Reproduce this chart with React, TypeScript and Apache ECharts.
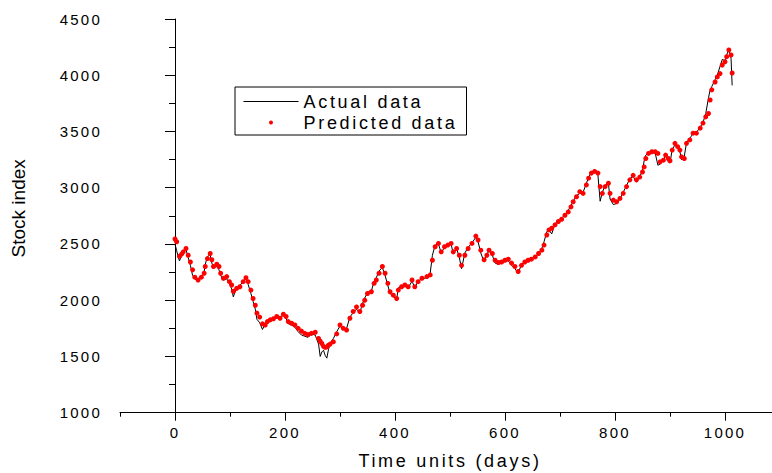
import React, { useEffect, useRef } from "react";
import * as echarts from "echarts";

const days = [
  0, 3, 8, 12, 15, 20, 24, 28, 32, 36, 42, 48, 53, 55, 59, 64, 67, 70, 76, 80,
  83, 88, 94, 99, 103, 106, 112, 118, 124, 129, 133, 138, 142, 146, 149, 154, 159, 164, 168, 173,
  179, 185, 191, 197, 202, 206, 212, 218, 224, 230, 236, 242, 248, 255, 261, 264, 267, 270, 273, 276,
  279, 282, 288, 294, 300, 306, 312, 318, 324, 330, 336, 341, 345, 350, 357, 362, 366, 371, 377, 382,
  387, 391, 397, 403, 406, 412, 418, 424, 431, 436, 442, 449, 458, 464, 468, 473, 479, 484, 490, 496,
  502, 506, 512, 517, 521, 527, 533, 540, 547, 551, 556, 562, 567, 571, 577, 582, 588, 594, 600, 606,
  612, 618, 624, 630, 636, 642, 648, 655, 661, 667, 671, 676, 680, 685, 691, 697, 703, 709, 715, 720,
  724, 730, 736, 742, 748, 752, 757, 763, 769, 773, 777, 782, 788, 791, 797, 803, 809, 815, 821, 827,
  833, 839, 845, 850, 853, 856, 861, 867, 873, 878, 882, 888, 892, 897, 900, 904, 909, 914, 918, 921,
  926, 930, 936, 942, 948, 955, 960, 965, 970, 973, 976, 982, 986, 991, 995, 1000, 1003, 1007, 1011, 1013,
];

const predicted = [
  2544, 2520, 2390, 2410, 2430, 2460, 2400, 2340, 2270, 2205, 2180, 2205, 2240, 2300, 2370, 2415, 2360, 2300, 2320, 2300,
  2240, 2195, 2210, 2165, 2135, 2080, 2105, 2120, 2165, 2200, 2165, 2090, 2015, 1955, 1885, 1850, 1790, 1780, 1810, 1825,
  1835, 1855, 1840, 1875, 1855, 1810, 1795, 1780, 1750, 1725, 1705, 1695, 1705, 1715, 1660, 1635, 1615, 1590, 1580, 1585,
  1600, 1610, 1630, 1700, 1780, 1750, 1735, 1840, 1900, 1940, 1900, 1955, 2000, 2060, 2075, 2150, 2180, 2240, 2300, 2240,
  2150, 2075, 2045, 2015, 2090, 2120, 2135, 2120, 2180, 2120, 2165, 2195, 2210, 2225, 2355, 2475, 2505, 2430, 2475, 2490,
  2505, 2430, 2460, 2400, 2310, 2400, 2460, 2505, 2570, 2535, 2445, 2360, 2400, 2445, 2415, 2355, 2335, 2340, 2355, 2365,
  2330, 2300, 2255, 2310, 2340, 2355, 2365, 2385, 2415, 2445, 2490, 2580, 2625, 2640, 2670, 2700, 2720, 2755, 2785, 2830,
  2875, 2920, 2965, 2950, 3025, 3085, 3130, 3145, 3130, 3010, 2950, 3010, 3040, 2950, 2890, 2875, 2905, 2950, 3010, 3070,
  3110, 3070, 3095, 3140, 3185, 3260, 3305, 3320, 3320, 3305, 3230, 3245, 3290, 3260, 3240, 3335, 3395, 3365, 3335, 3275,
  3260, 3395, 3425, 3485, 3485, 3530, 3575, 3630, 3660, 3780, 3870, 3940, 3985, 4015, 4090, 4120, 4165, 4225, 4180, 4020,
];

const actual = [
  2500, 2440, 2350, 2390, 2440, 2450, 2380, 2310, 2220, 2190, 2170, 2200, 2250, 2320, 2390, 2400, 2330, 2290, 2300, 2270,
  2220, 2180, 2190, 2150, 2100, 2030, 2110, 2130, 2170, 2190, 2140, 2060, 1990, 1920, 1830, 1800, 1740, 1790, 1800, 1820,
  1840, 1850, 1830, 1880, 1840, 1790, 1780, 1760, 1720, 1690, 1680, 1670, 1700, 1690, 1610, 1500, 1540, 1555, 1510, 1485,
  1560, 1620, 1660, 1720, 1770, 1740, 1750, 1850, 1890, 1920, 1890, 1970, 2020, 2070, 2080, 2170, 2200, 2260, 2290, 2220,
  2130, 2060, 2030, 2010, 2110, 2120, 2140, 2110, 2170, 2110, 2170, 2190, 2200, 2240, 2400, 2490, 2500, 2420, 2470, 2480,
  2500, 2410, 2460, 2380, 2280, 2420, 2470, 2510, 2560, 2520, 2420, 2340, 2410, 2440, 2400, 2330, 2320, 2330, 2350, 2350,
  2310, 2280, 2240, 2320, 2340, 2350, 2370, 2390, 2410, 2460, 2520, 2610, 2620, 2590, 2680, 2700, 2730, 2760, 2800, 2840,
  2880, 2930, 2950, 2960, 3040, 3090, 3140, 3150, 3110, 2880, 2960, 3020, 3040, 2900, 2850, 2860, 2900, 2960, 3020, 3080,
  3100, 3050, 3100, 3150, 3240, 3290, 3310, 3320, 3310, 3200, 3210, 3250, 3290, 3230, 3220, 3340, 3380, 3350, 3320, 3250,
  3280, 3400, 3440, 3480, 3490, 3540, 3580, 3660, 3800, 3870, 3900, 3960, 4000, 4080, 4140, 4130, 4180, 4230, 4150, 3910,
];

const xLabelValues = [0, 200, 400, 600, 800, 1000];
const seriesNames = ["Actual data", "Predicted data"];
const xTitle = "Time units (days)";
const yTitle = "Stock index";

const FONT = "'Liberation Sans', Arial, sans-serif";

export default function App() {
  const ref = useRef<HTMLDivElement>(null);

  useEffect(() => {
    if (!ref.current) return;
    const chart = echarts.init(ref.current, undefined, { renderer: "svg" });
    const actualData = days.map((d, i) => [d, actual[i]]);
    const predictedData = days.map((d, i) => [d, predicted[i]]);

    chart.setOption({
      animation: false,
      backgroundColor: "#ffffff",
      textStyle: { fontFamily: FONT, color: "#000" },
      grid: {
        left: 120,
        top: 19,
        width: 660,
        height: 393.7,
        containLabel: false,
        outerBoundsMode: "none",
      },
      legend: {
        orient: "vertical",
        left: 235,
        top: 87,
        itemWidth: 55,
        itemHeight: 4,
        itemGap: 0,
        padding: [4, 8, 2, 8],
        borderColor: "#000",
        borderWidth: 1,
        borderRadius: 0,
        backgroundColor: "#fff",
        data: [
          {
            name: seriesNames[0],
            itemStyle: { color: "rgba(0,0,0,0)", borderColor: "rgba(0,0,0,0)", borderWidth: 0 },
            lineStyle: { color: "#000", width: 1 },
          },
          { name: seriesNames[1] },
        ],
        textStyle: {
          fontFamily: FONT,
          fontSize: 18,
          color: "#000",
          width: 155,
          lineHeight: 21,
        },
      },
      xAxis: [
        {
          type: "value",
          min: -100,
          max: 1100,
          interval: 200,
          position: "bottom",
          name: xTitle,
          nameLocation: "middle",
          nameGap: 39,
          nameMoveOverlap: false,
          nameTextStyle: { fontFamily: FONT, fontSize: 18, color: "#000" },
          axisLine: { show: true, lineStyle: { color: "#000", width: 1 } },
          axisTick: { show: true, length: 4, lineStyle: { color: "#000", width: 1 } },
          minorTick: { show: true, splitNumber: 2, length: 8, lineStyle: { color: "#000", width: 1 } },
          axisLabel: { show: false },
          splitLine: { show: false },
          minorSplitLine: { show: false },
        },
        {
          type: "value",
          min: -100,
          max: 1100,
          interval: 100,
          position: "bottom",
          axisLine: { show: false },
          axisTick: { show: false },
          splitLine: { show: false },
          axisLabel: {
            show: true,
            margin: 12,
            fontFamily: FONT,
            fontSize: 15,
            color: "#000",
            formatter: (v: number) => (xLabelValues.indexOf(v) >= 0 ? String(v) : ""),
          },
        },
      ],
      yAxis: {
        type: "value",
        min: 1000,
        max: 4500,
        interval: 500,
        name: yTitle,
        nameLocation: "middle",
        nameGap: 92,
        nameTextStyle: { fontFamily: FONT, fontSize: 19, color: "#000", padding: [0, 0, 0, 15] },
        axisLine: { show: true, lineStyle: { color: "#000", width: 1 } },
        axisTick: { show: true, length: 10, lineStyle: { color: "#000", width: 1 } },
        minorTick: { show: true, splitNumber: 2, length: 6, lineStyle: { color: "#000", width: 1 } },
        axisLabel: {
          margin: 18,
          fontFamily: FONT,
          fontSize: 15,
          color: "#000",
          formatter: (v: number) => String(v),
        },
        splitLine: { show: false },
        minorSplitLine: { show: false },
      },
      series: [
        {
          name: seriesNames[0],
          type: "line",
          xAxisIndex: 0,
          data: actualData,
          symbol: "none",
          showSymbol: false,
          lineStyle: { color: "#000", width: 1 },
          itemStyle: { color: "#000" },
          z: 2,
        },
        {
          name: seriesNames[1],
          type: "scatter",
          xAxisIndex: 0,
          data: predictedData,
          symbol: "circle",
          symbolSize: 5,
          itemStyle: { color: "#ff0000", opacity: 1 },
          z: 3,
        },
      ],
    });
    return () => chart.dispose();
  }, []);

  return (
    <>
      <style>{`
        .chart-box text[style*="15px"] { letter-spacing: 0.15em; }
        .chart-box text[style*="18px"] { letter-spacing: 0.15em; }
      `}</style>
      <div
        ref={ref}
        className="chart-box"
        style={{ position: "fixed", left: 0, top: 0, width: 772, height: 473, background: "#fff" }}
      />
    </>
  );
}
